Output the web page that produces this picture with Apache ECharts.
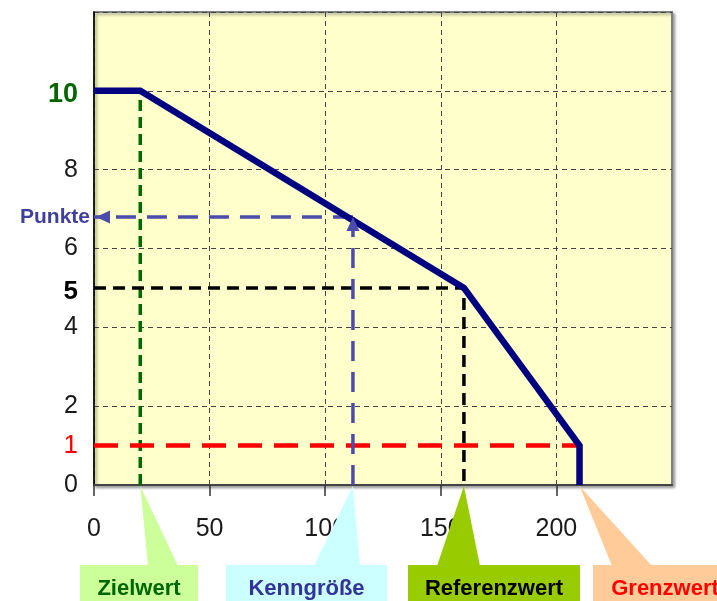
<!DOCTYPE html>
<html><head><meta charset="utf-8">
<script src="https://cdn.jsdelivr.net/npm/echarts@6/dist/echarts.min.js"></script>
<style>html,body{margin:0;padding:0;background:#fff}#c{width:717px;height:601px}</style>
</head><body><div id="c"></div>
<script>
// Scoring curve: points awarded as a function of the key figure
const curveX = [0, 20, 160, 210, 210];
const curveY = [10, 10, 5, 1, 0];

// Reference marks on the key-figure axis and their points
const zielwert = 20,      zielPunkte = 10;
const referenzwert = 160, refPunkte = 5;
const grenzwert = 210,    grenzPunkte = 1;
const kenngroesse = 112,  punkte = 6.8;

const xTickValues = [0, 50, 100, 150, 200];
const yLabelValues = [0, 1, 2, 4, 5, 6, 8, 10];

const calloutNames = ['Zielwert', 'Kenngröße', 'Referenzwert', 'Grenzwert'];
const calloutValues = [zielwert, kenngroesse, referenzwert, grenzwert];

// Callout boxes under the axis (pixel layout)
const calloutStyle = [
  { fill: '#CCFF99', text: '#006600', box: [80, 198],  base: [148, 178] },
  { fill: '#CCFFFF', text: '#333399', box: [226, 387], base: [314, 360] },
  { fill: '#99CC00', text: '#000000', box: [408, 580], base: [437, 480] },
  { fill: '#FFCC99', text: '#FF0000', box: [593, 737], base: [612, 652] }
];

const AXIS_FONT = "'Liberation Sans Narrow', 'Arial Narrow', 'Liberation Sans', Arial, sans-serif";
const SANS = "'Liberation Sans', Arial, sans-serif";
const ARROW = '#4B4BAA';

const chart = echarts.init(document.getElementById('c'), null, { renderer: 'canvas' });

function dashed(data, color, width, dash, z) {
  return {
    type: 'line', data: data, symbol: 'none', silent: true, z: z,
    lineStyle: { color: color, width: width, type: dash, cap: 'butt' }
  };
}

chart.setOption({
  animation: false,
  grid: {
    left: 94, right: 45, top: 12, bottom: 116,
    show: true, backgroundColor: '#FFFFCC',
    borderColor: '#808080', borderWidth: 2,
    shadowColor: 'rgba(0,0,0,0.35)', shadowBlur: 3, shadowOffsetX: 2, shadowOffsetY: 2
  },
  xAxis: {
    type: 'value', min: 0, max: 250, interval: 50,
    axisLine: { show: true, lineStyle: { color: '#444', width: 2 } },
    axisTick: { show: true, length: 11, customValues: xTickValues, lineStyle: { color: '#333', width: 1.5 } },
    axisLabel: {
      customValues: xTickValues, margin: 32,
      fontFamily: AXIS_FONT, fontSize: 25, color: '#1a1a1a'
    },
    splitLine: { show: true, lineStyle: { color: '#444', width: 1, type: [5, 4] } }
  },
  yAxis: {
    type: 'value', min: 0, max: 12, interval: 2,
    axisLine: { show: true, lineStyle: { color: '#000', width: 1.5 } },
    axisTick: { show: false },
    axisLabel: {
      customValues: yLabelValues, margin: 16,
      fontFamily: AXIS_FONT, fontSize: 25, color: '#1a1a1a',
      formatter: function (v) {
        if (v === zielPunkte) return '{g|' + v + '}';
        if (v === refPunkte) return '{b|' + v + '}';
        if (v === grenzPunkte) return '{r|' + v + '}';
        return String(v);
      },
      rich: {
        g: { color: '#006600', fontWeight: 'bold', fontSize: 27, fontFamily: AXIS_FONT, padding: [8, 0, 0, 0] },
        b: { color: '#000', fontWeight: 'bold', fontSize: 26, fontFamily: AXIS_FONT, padding: [8, 0, 0, 0] },
        r: { color: '#FF0000', fontSize: 26, fontFamily: AXIS_FONT }
      }
    },
    splitLine: { show: true, lineStyle: { color: '#444', width: 1, type: [5, 4] } }
  },
  series: [
    dashed([[zielwert, 0], [zielwert, zielPunkte]], '#006A00', 3.5, [11, 6], 3),
    dashed([[0, refPunkte], [referenzwert, refPunkte], [referenzwert, 0]], '#000000', 3.5, [12, 7], 3),
    dashed([[0, grenzPunkte], [grenzwert, grenzPunkte]], '#FF0000', 4.5, [24, 12], 3),
    dashed([[kenngroesse, 0], [kenngroesse, punkte]], ARROW, 3.5, [20, 11], 4),
    dashed([[kenngroesse, punkte], [0, punkte]], ARROW, 3.5, [20, 11], 4),
    {
      type: 'line', data: curveX.map(function (x, i) { return [x, curveY[i]]; }),
      symbol: 'none', silent: true, z: 5,
      lineStyle: { color: '#000080', width: 6.5, join: 'miter' }
    }
  ]
});

const graphics = [];

// Arrowheads: tip sits on the end point of each arrow
const upTip = chart.convertToPixel({ gridIndex: 0 }, [kenngroesse, punkte]);
const leftTip = chart.convertToPixel({ gridIndex: 0 }, [0, punkte]);
graphics.push({
  type: 'polygon', z: 60,
  shape: { points: [[upTip[0], upTip[1]], [upTip[0] - 6.5, upTip[1] + 14], [upTip[0] + 6.5, upTip[1] + 14]] },
  style: { fill: ARROW }
});
graphics.push({
  type: 'polygon', z: 60,
  shape: { points: [[leftTip[0] + 2, leftTip[1]], [leftTip[0] + 16, leftTip[1] - 6.5], [leftTip[0] + 16, leftTip[1] + 6.5]] },
  style: { fill: ARROW }
});

// "Punkte" caption at the end of the horizontal arrow
graphics.push({
  type: 'text', z: 101,
  x: leftTip[0] - 4, y: leftTip[1],
  style: {
    text: 'Punkte', fill: '#3F3F9F', font: 'bold 21px ' + SANS,
    align: 'right', verticalAlign: 'middle'
  }
});

// Callouts pointing at their positions on the key-figure axis
calloutValues.forEach(function (v, i) {
  const tip = chart.convertToPixel({ gridIndex: 0 }, [v, 0]);
  const s = calloutStyle[i];
  const boxTop = 565;
  graphics.push({
    type: 'polygon', z: 100,
    shape: { points: [[tip[0], tip[1] + 1], [s.base[0], boxTop + 1], [s.base[1], boxTop + 1]] },
    style: { fill: s.fill }
  });
  graphics.push({
    type: 'rect', z: 100,
    shape: { x: s.box[0], y: boxTop, width: s.box[1] - s.box[0], height: 601 - boxTop },
    style: { fill: s.fill }
  });
  graphics.push({
    type: 'text', z: 101,
    x: (s.box[0] + s.box[1]) / 2, y: 589,
    style: {
      text: calloutNames[i], fill: s.text, font: 'bold 22px ' + SANS,
      align: 'center', verticalAlign: 'middle'
    }
  });
});

chart.setOption({ graphic: graphics });
</script>
</body></html>
